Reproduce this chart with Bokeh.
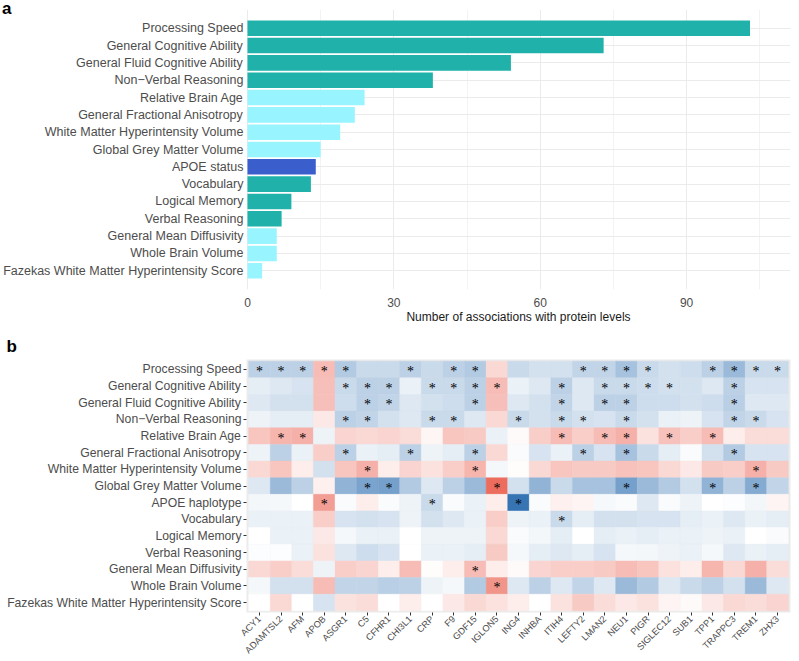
import math
from bokeh.plotting import figure
from bokeh.models import Range1d, FactorRange, ColumnDataSource, FixedTicker, Div
from bokeh.layouts import column
from bokeh.embed import file_html
from bokeh.resources import INLINE
from bokeh.transform import linear_cmap

FONT = "Liberation Sans"

# ---------------- Panel a data ----------------
bar_traits = ["Processing Speed", "General Cognitive Ability", "General Fluid Cognitive Ability",
              "Non\u2212Verbal Reasoning", "Relative Brain Age", "General Fractional Anisotropy",
              "White Matter Hyperintensity Volume", "Global Grey Matter Volume", "APOE status",
              "Vocabulary", "Logical Memory", "Verbal Reasoning", "General Mean Diffusivity",
              "Whole Brain Volume", "Fazekas White Matter Hyperintensity Score"]
bar_counts = [103, 73, 54, 38, 24, 22, 19, 15, 14, 13, 9, 7, 6, 6, 3]
bar_domain = ["Cognitive", "Cognitive", "Cognitive", "Cognitive", "Imaging", "Imaging",
              "Imaging", "Imaging", "Genetic", "Cognitive", "Cognitive", "Cognitive",
              "Imaging", "Imaging", "Imaging"]
x_ticks_a = [0, 30, 60, 90]
x_minor_a = [15, 45, 75, 105]

# ---------------- Panel b data ----------------
proteins = ["ACY1", "ADAMTSL2", "AFM", "APOB", "ASGR1", "C5", "CFHR1", "CHI3L1", "CRP", "F9",
            "GDF15", "IGLON5", "ING4", "INHBA", "ITIH4", "LEFTY2", "LMAN2", "NEU1", "PIGR",
            "SIGLEC12", "SUB1", "TPP1", "TRAPPC3", "TREM1", "ZHX3"]
heat_traits = ["Processing Speed", "General Cognitive Ability", "General Fluid Cognitive Ability",
               "Non\u2212Verbal Reasoning", "Relative Brain Age", "General Fractional Anisotropy",
               "White Matter Hyperintensity Volume", "Global Grey Matter Volume", "APOE haplotype",
               "Vocabulary", "Logical Memory", "Verbal Reasoning", "General Mean Diffusivity",
               "Whole Brain Volume", "Fazekas White Matter Hyperintensity Score"]
effect = [
    [-0.30, -0.30, -0.30, 0.35, -0.35, -0.25, -0.25, -0.30, -0.25, -0.30, -0.35, 0.20, -0.25,
     -0.20, -0.20, -0.28, -0.28, -0.40, -0.25, -0.20, -0.22, -0.30, -0.45, -0.25, -0.25],
    [-0.12, -0.15, -0.18, 0.33, -0.25, -0.30, -0.30, -0.10, -0.25, -0.25, -0.30, 0.35, -0.10,
     -0.15, -0.30, -0.15, -0.25, -0.25, -0.22, -0.20, -0.20, -0.15, -0.30, -0.18, -0.18],
    [-0.15, -0.20, -0.20, 0.33, -0.22, -0.30, -0.28, -0.15, -0.20, -0.22, -0.30, 0.33, -0.15,
     -0.20, -0.28, -0.15, -0.30, -0.30, -0.22, -0.22, -0.20, -0.22, -0.32, -0.15, -0.15],
    [-0.08, -0.12, -0.12, 0.12, -0.30, -0.28, -0.20, -0.15, -0.25, -0.25, -0.15, 0.20, -0.25,
     -0.20, -0.25, -0.20, -0.18, -0.25, -0.20, -0.10, -0.08, -0.18, -0.28, -0.25, -0.18],
    [0.30, 0.38, 0.40, -0.08, 0.22, 0.20, 0.22, 0.18, 0.05, 0.30, 0.28, -0.10, 0.03,
     0.25, 0.35, 0.25, 0.35, 0.40, 0.15, 0.32, 0.25, 0.35, 0.10, 0.18, 0.18],
    [-0.08, -0.30, -0.10, 0.25, -0.30, -0.10, -0.12, -0.30, -0.08, -0.12, -0.30, 0.20, -0.03,
     -0.18, -0.10, -0.30, -0.18, -0.40, -0.25, -0.12, -0.03, -0.20, -0.35, -0.18, -0.18],
    [0.20, 0.30, 0.10, -0.20, 0.30, 0.40, 0.10, 0.22, 0.15, 0.25, 0.38, -0.05, 0.02,
     0.20, 0.30, 0.28, 0.28, 0.32, 0.30, 0.20, 0.12, 0.28, 0.25, 0.40, 0.28],
    [-0.15, -0.45, -0.30, 0.08, -0.50, -0.60, -0.62, -0.35, -0.15, -0.30, -0.45, 0.75, -0.20,
     -0.50, -0.25, -0.40, -0.40, -0.62, -0.45, -0.35, -0.20, -0.50, -0.30, -0.55, -0.28],
    [-0.06, -0.05, 0.00, 0.50, -0.03, 0.10, -0.03, -0.08, -0.25, -0.03, -0.10, 0.10, -0.90,
     -0.03, 0.08, 0.06, -0.04, -0.03, -0.15, -0.03, -0.08, 0.00, -0.02, -0.06, 0.06],
    [-0.10, -0.10, -0.10, 0.25, -0.18, -0.20, -0.18, -0.08, -0.20, -0.15, -0.10, 0.25, -0.08,
     -0.10, -0.25, -0.12, -0.20, -0.20, -0.18, -0.18, -0.12, -0.10, -0.15, -0.10, -0.12],
    [0.00, -0.10, -0.10, 0.12, -0.05, -0.10, -0.10, 0.00, -0.08, -0.08, -0.08, 0.20, -0.03,
     -0.06, -0.12, 0.00, -0.12, -0.10, -0.12, -0.10, -0.10, -0.08, -0.10, 0.00, -0.03],
    [-0.02, -0.02, -0.10, 0.15, -0.15, -0.22, -0.18, 0.00, -0.10, -0.10, -0.12, 0.28, -0.05,
     -0.12, -0.15, -0.12, -0.18, -0.05, -0.06, -0.08, -0.10, -0.05, -0.15, -0.10, -0.12],
    [0.20, 0.25, 0.18, -0.08, 0.25, 0.22, 0.10, 0.35, 0.02, 0.10, 0.35, 0.10, 0.03,
     0.22, 0.25, 0.25, 0.28, 0.35, 0.30, 0.15, 0.10, 0.38, 0.20, 0.40, 0.18],
    [-0.05, -0.20, -0.20, 0.35, -0.28, -0.28, -0.32, -0.30, -0.08, -0.05, -0.35, 0.55, -0.15,
     -0.30, -0.15, -0.28, -0.15, -0.45, -0.35, -0.15, -0.25, -0.30, -0.20, -0.45, -0.15],
    [0.00, 0.20, 0.00, -0.18, 0.15, 0.18, 0.00, 0.10, 0.00, 0.12, 0.20, 0.15, 0.10,
     0.00, 0.15, 0.28, 0.18, 0.12, 0.15, 0.06, 0.03, 0.12, 0.20, 0.18, 0.22],
]
significant = [
    ["ACY1", "ADAMTSL2", "AFM", "APOB", "ASGR1", "CHI3L1", "F9", "GDF15", "LEFTY2", "LMAN2",
     "NEU1", "PIGR", "TPP1", "TRAPPC3", "TREM1", "ZHX3"],
    ["ASGR1", "C5", "CFHR1", "CRP", "F9", "GDF15", "IGLON5", "ITIH4", "LMAN2", "NEU1", "PIGR",
     "SIGLEC12", "TRAPPC3"],
    ["C5", "CFHR1", "GDF15", "ITIH4", "LMAN2", "NEU1", "TRAPPC3"],
    ["ASGR1", "C5", "CRP", "F9", "ING4", "ITIH4", "LEFTY2", "NEU1", "TRAPPC3", "TREM1"],
    ["ADAMTSL2", "AFM", "ITIH4", "LMAN2", "NEU1", "SIGLEC12", "TPP1"],
    ["ASGR1", "CHI3L1", "GDF15", "LEFTY2", "NEU1", "TRAPPC3"],
    ["C5", "GDF15", "TREM1"],
    ["C5", "CFHR1", "IGLON5", "NEU1", "TPP1", "TREM1"],
    ["APOB", "CRP", "ING4"],
    ["ITIH4"],
    [],
    [],
    ["GDF15"],
    ["IGLON5"],
    [],
]

# ---------------- colour helpers (styles) ----------------
domain_colors = {"Cognitive": "#20b2aa", "Imaging": "#98f5ff", "Genetic": "#3a5fcd"}


def _mix(c1, c2, t):
    return "#%02x%02x%02x" % tuple(int(round(a + (b - a) * t)) for a, b in zip(c1, c2))


LOW = (33, 102, 172)
MID = (255, 255, 255)
HIGH = (230, 62, 42)
palette = [_mix(LOW, MID, i / 127) for i in range(128)] + [_mix(MID, HIGH, i / 127) for i in range(128)]

GREY_TXT = "#4d4d4d"

# ---------------- Panel a ----------------
pa = figure(width=799, height=326, output_backend="svg", toolbar_location=None,
            y_range=FactorRange(factors=bar_traits[::-1], range_padding=0.58,
                                range_padding_units="absolute"),
            x_range=Range1d(-0.2, 111.3),
            min_border_left=246, min_border_right=9, min_border_top=9, min_border_bottom=36)
src_a = ColumnDataSource(dict(trait=bar_traits, count=bar_counts,
                              color=[domain_colors[d] for d in bar_domain]))
pa.hbar(y="trait", left=0, right="count", height=0.9, fill_color="color", line_color=None,
        source=src_a)
pa.outline_line_color = None
pa.background_fill_color = "white"
pa.border_fill_color = None
pa.xaxis.ticker = FixedTicker(ticks=x_ticks_a, minor_ticks=x_minor_a)
pa.xgrid.grid_line_color = "#ebebeb"
pa.xgrid.minor_grid_line_color = "#f3f3f3"
pa.ygrid.grid_line_color = "#ebebeb"
for ax in (pa.xaxis[0], pa.yaxis[0]):
    ax.axis_line_color = None
    ax.major_tick_line_color = None
    ax.minor_tick_line_color = None
    ax.major_tick_out = 0
    ax.major_tick_in = 0
    ax.minor_tick_out = 0
    ax.minor_tick_in = 0
    ax.major_label_text_font = FONT
    ax.major_label_text_color = GREY_TXT
pa.yaxis.major_label_text_font_size = "12.5px"
pa.xaxis.major_label_text_font_size = "12px"
pa.yaxis.major_label_standoff = 3
pa.xaxis.major_label_standoff = 8
pa.xaxis.axis_label = "Number of associations with protein levels"
pa.xaxis.axis_label_text_font = FONT
pa.xaxis.axis_label_text_font_style = "normal"
pa.xaxis.axis_label_text_font_size = "12px"
pa.xaxis.axis_label_text_color = "#1a1a1a"
pa.xaxis.axis_label_standoff = 0

label_a = Div(text='<span style="font-family:\'Liberation Sans\',Arial,sans-serif;'
                   'font-weight:bold;font-size:17px;line-height:18px;color:#000">a</span>',
              width=20, height=18, margin=(0, 0, -18, 2))

# ---------------- Panel b ----------------
px, py, pv = [], [], []
sx, sy = [], []
for i, tr in enumerate(heat_traits):
    for j, pr in enumerate(proteins):
        px.append(pr)
        py.append(tr)
        pv.append(effect[i][j])
    for pr in significant[i]:
        sx.append(pr)
        sy.append(tr)

pb = figure(width=799, height=335, output_backend="svg", toolbar_location=None,
            x_range=FactorRange(factors=proteins, range_padding=0.1, range_padding_units="absolute"),
            y_range=FactorRange(factors=heat_traits[::-1], range_padding=0.1,
                                range_padding_units="absolute"),
            min_border_left=241, min_border_right=4, min_border_top=33, min_border_bottom=46)
pb.background_fill_color = "#ebebeb"
pb.outline_line_color = None
pb.grid.grid_line_color = None
pb.title.text = "b"
pb.title.align = "left"
pb.title.offset = -240
pb.title.standoff = 7
pb.title.text_font = FONT
pb.title.text_font_size = "17px"
pb.title.text_font_style = "bold"
pb.title.text_color = "black"
cmap = linear_cmap("v", palette, -1, 1)
pb.rect(x="p", y="t", width=1, height=1, source=ColumnDataSource(dict(p=px, t=py, v=pv)),
        fill_color=cmap, line_color=cmap, line_width=0.4)
pb.text(x="p", y="t", text="s", source=ColumnDataSource(dict(p=sx, t=sy, s=["*"] * len(sx))),
        text_font_size="14px", text_align="center", text_baseline="middle", text_color="black",
        text_font=FONT, y_offset=2)
for ax in (pb.xaxis[0], pb.yaxis[0]):
    ax.axis_line_color = None
    ax.major_tick_in = 0
    ax.major_tick_out = 3
    ax.major_tick_line_color = "#333333"
    ax.minor_tick_line_color = None
    ax.minor_tick_out = 0
    ax.major_label_text_font = FONT
    ax.major_label_text_color = GREY_TXT
    ax.major_label_standoff = 2
pb.yaxis.major_label_text_font_size = "12.2px"
pb.xaxis.major_label_text_font_size = "9.2px"
pb.xaxis.major_label_orientation = math.pi / 4

layout = column(label_a, pa, pb, spacing=0)
open("out.html", "w").write(file_html(layout, INLINE))
